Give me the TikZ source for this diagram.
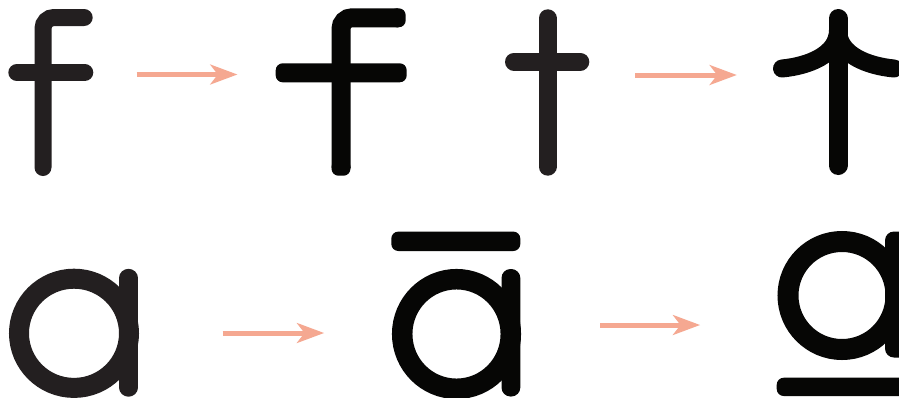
\documentclass[tikz,border=0pt]{standalone}
\usetikzlibrary{arrows.meta}
\definecolor{glyphgray}{HTML}{231F20}
\definecolor{glyphblack}{HTML}{060605}
\definecolor{salmon}{HTML}{F5A891}
\tikzset{
  grayglyph/.style={draw=glyphgray, line cap=round},
  blackglyph/.style={draw=glyphblack, line cap=round},
  blackbar/.style={fill=glyphblack, rounded corners=7pt},
  convert/.style={draw=salmon, line width=5pt,
    -{Stealth[length=27.5pt,width=20.5pt,inset=8pt,line width=0pt,fill=salmon]}},
}
\begin{document}
\begin{tikzpicture}[x=1pt,y=-1pt]
\path[use as bounding box] (0,0) rectangle (899,397);
\clip (0,0) rectangle (899,397);
\fill[white] (0,0) rectangle (899,397);

% ---- row 1: f -> bold f
\draw[grayglyph, line width=17pt, rounded corners=11pt] (43,167.5) -- (43,17.5) -- (84.2,17.5);
\draw[grayglyph, line width=17pt] (16.8,72.5) -- (84.8,72.5);

\coordinate (a1s) at (136.7,74.5);
\coordinate (a1e) at (237.3,74.5);
\draw[convert] (a1s) -- (a1e);

\draw[draw=glyphblack, line width=19pt, rounded corners=11pt] (341,168) -- (341,17.8) -- (398,17.8);
\fill[blackbar] (331.5,160) rectangle (350.5,175.7);
\fill[blackbar] (390,8.3) rectangle (405.7,27.3);
\fill[blackbar] (275.7,63.3) rectangle (406.7,82.3);

% ---- row 1: t -> tent shape
\draw[grayglyph, line width=18pt] (547.5,18.3) -- (547.5,166.7);
\draw[grayglyph, line width=18pt] (514,61.7) -- (580.3,61.7);

\coordinate (a2s) at (635,75);
\coordinate (a2e) at (736.7,75);
\draw[convert] (a2s) -- (a2e);

\draw[blackglyph, line width=19pt] (838,18.5) -- (838,165.5);
\draw[blackglyph, line width=18pt] (782,68.5) .. controls (808,66) and (838,55) .. (838,30);
\draw[blackglyph, line width=18pt] (894,68.5) .. controls (868,66) and (838,55) .. (838,30);

% ---- row 2: a -> a macron -> a underline
\draw[draw=glyphgray, line width=20pt] (74,333.3) ellipse [x radius=55, y radius=54.6];
\draw[grayglyph, line width=18.4pt] (128.5,278) -- (128.5,387.5);

\coordinate (a3s) at (222.7,333);
\coordinate (a3e) at (324,333);
\draw[convert] (a3s) -- (a3e);

\fill[blackbar] (391.3,231.6) rectangle (520.3,251);
\draw[draw=glyphblack, line width=20.5pt] (456.5,334) ellipse [x radius=54.3, y radius=54.8];
\fill[blackbar, rounded corners=9pt] (501.5,269) rectangle (520.3,396.5);

\coordinate (a4s) at (600,325);
\coordinate (a4e) at (700,325);
\draw[convert] (a4s) -- (a4e);

\draw[draw=glyphblack, line width=21pt] (842,295.5) ellipse [x radius=54, y radius=54];
\fill[blackbar, rounded corners=9pt] (885,231.5) rectangle (910,357.5);
\fill[blackbar] (776.7,377.7) rectangle (915,396);
\end{tikzpicture}
\end{document}
